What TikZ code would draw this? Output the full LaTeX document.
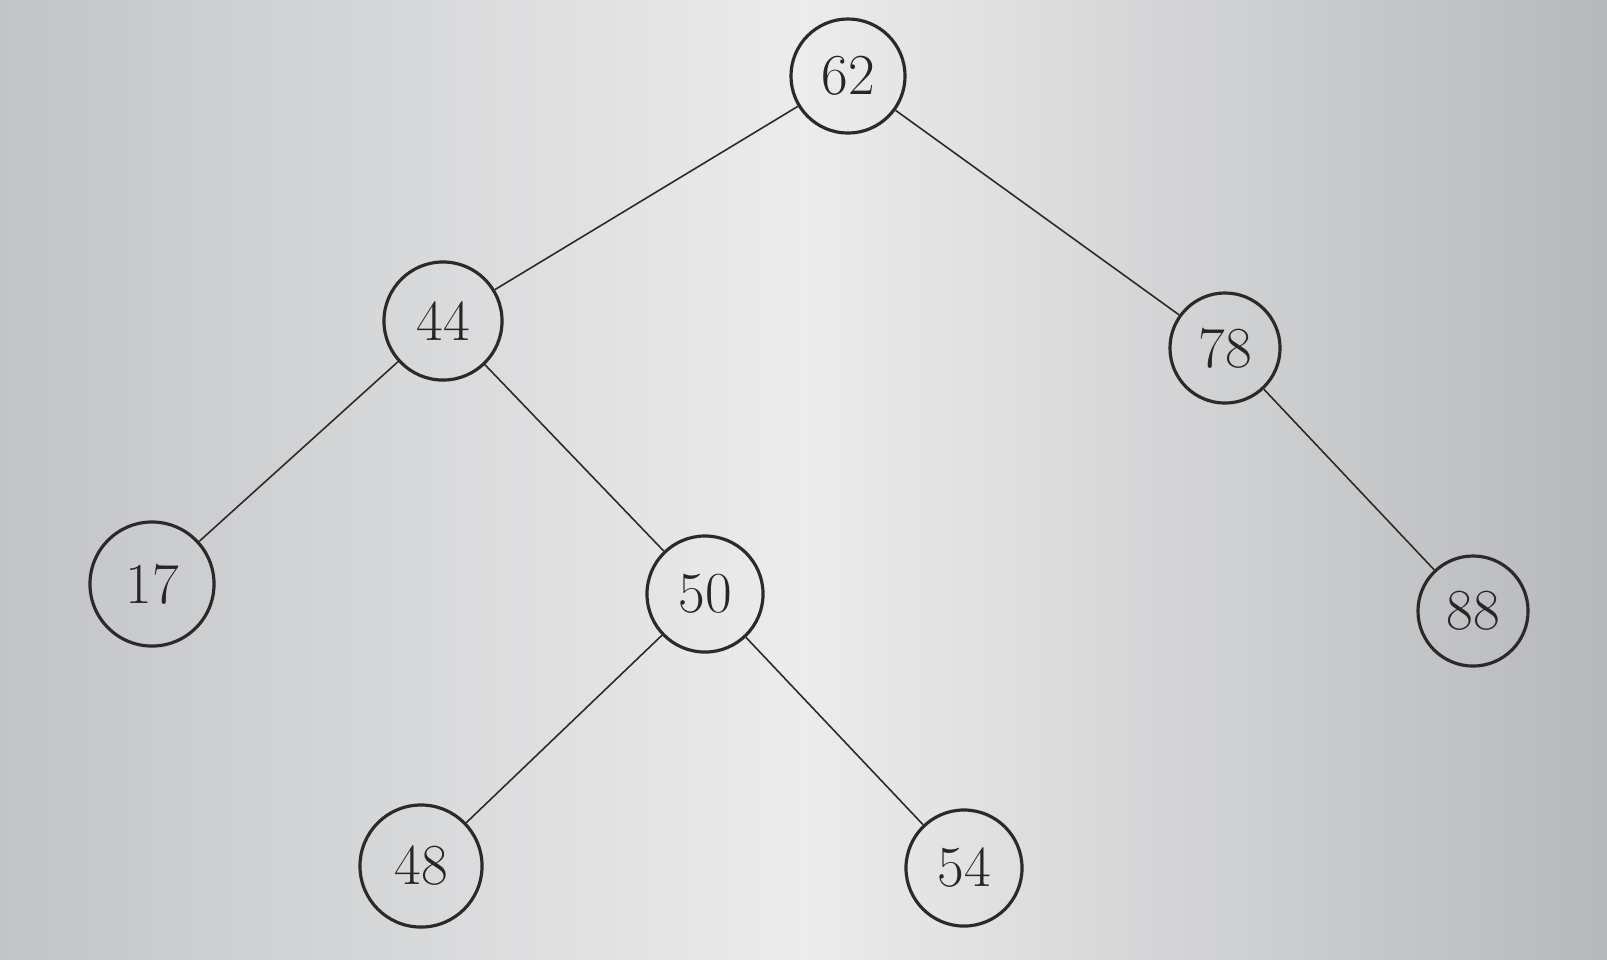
\documentclass[tikz,border=0pt]{standalone}
\usepackage{tikz}
\definecolor{screenedge}{HTML}{C2C4C7}
\definecolor{screenmid}{HTML}{ECECEC}
\definecolor{inkgray}{HTML}{2A2A2A}

\tikzset{
  treenode/.style={draw=inkgray, circle, line width=0.9pt, minimum size=1.14cm,
    inner sep=0pt, text=inkgray!90!black, font=\fontsize{16.5}{19}\selectfont},
  treeedge/.style={inkgray, line width=0.45pt}
}

\begin{document}
\begin{tikzpicture}[x=0.01cm, y=-0.01cm]
\shade[left color=screenedge, right color=screenedge!94!black, middle color=screenmid]
  (0,0) rectangle (1607,959);
\useasboundingbox (0,0) rectangle (1607,959);

\node[treenode] (n62) at (848,76) {62};
\node[treenode, minimum size=1.18cm] (n44) at (443,321) {44};
\node[treenode, minimum size=1.10cm] (n78) at (1225,348) {78};
\node[treenode, minimum size=1.24cm] (n17) at (152,584) {17};
\node[treenode, minimum size=1.16cm] (n50) at (705,594) {50};
\node[treenode, minimum size=1.10cm] (n88) at (1473,611) {88};
\node[treenode, minimum size=1.22cm] (n48) at (421,866) {48};
\node[treenode, minimum size=1.16cm] (n54) at (964,868) {54};

\draw[treeedge] (n62) -- (n44);
\draw[treeedge] (n62) -- (n78);
\draw[treeedge] (n44) -- (n17);
\draw[treeedge] (n44) -- (n50);
\draw[treeedge] (n78) -- (n88);
\draw[treeedge] (n50) -- (n48);
\draw[treeedge] (n50) -- (n54);
\end{tikzpicture}
\end{document}
